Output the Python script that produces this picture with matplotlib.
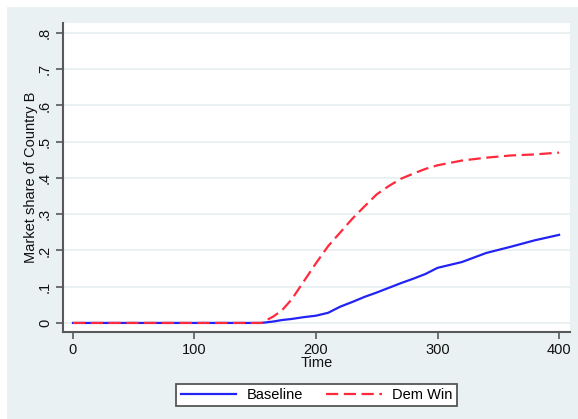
import matplotlib
matplotlib.use("Agg")
import matplotlib.pyplot as plt
from matplotlib.patches import Rectangle

time = [0, 155, 165, 172, 180, 190, 200, 210, 220, 230, 240, 250, 260, 270,
        280, 290, 300, 320, 340, 360, 380, 400]
dem_win = [0, 0, 0.018, 0.035, 0.065, 0.115, 0.165, 0.212, 0.25, 0.288, 0.322,
           0.355, 0.378, 0.398, 0.412, 0.425, 0.435, 0.448, 0.456, 0.462,
           0.465, 0.47]
baseline = [0, 0, 0.004, 0.008, 0.011, 0.016, 0.02, 0.028, 0.045, 0.058,
            0.072, 0.084, 0.097, 0.11, 0.122, 0.135, 0.152, 0.168, 0.193,
            0.21, 0.228, 0.243]

xticks = [0, 100, 200, 300, 400]
yticks = [0, 0.1, 0.2, 0.3, 0.4, 0.5, 0.6, 0.7, 0.8]
ytick_labels = ["0", ".1", ".2", ".3", ".4", ".5", ".6", ".7", ".8"]

plt.rcParams['font.family'] = ['Liberation Sans', 'DejaVu Sans']

W, H = 578, 419
fig = plt.figure(figsize=(W / 100, H / 100), dpi=100)
fig.patch.set_facecolor('white')
bg = Rectangle((7 / W, 0), 1 - 7 / W, 1 - 7 / H, transform=fig.transFigure,
               facecolor='#eaf1f3', edgecolor='none', zorder=-10)
fig.patches.append(bg)

ax = fig.add_axes([63 / W, 1 - 332 / H, (570 - 63) / W, (332 - 23) / H])
ax.set_zorder(1)
ax.set_facecolor('white')

ax.plot(time, baseline, color='#2323f5', lw=1.6, label='Baseline', zorder=3)
ax.plot(time, dem_win, color='#ff2a3c', lw=1.6, dashes=(5.5, 2.5),
        label='Dem Win', zorder=4)

ax.set_xlim(-8.2, 409)
ax.set_ylim(-0.025, 0.8276)
ax.set_xticks(xticks)
ax.set_yticks(yticks)
ax.set_yticklabels(ytick_labels, rotation=90, va='center')
ax.grid(axis='y', color='#e8f0f2', lw=1.3)
ax.set_axisbelow(True)

for s in ['top', 'right']:
    ax.spines[s].set_visible(False)
for s in ['left', 'bottom']:
    ax.spines[s].set_color('#595959')
    ax.spines[s].set_linewidth(1.5)
ax.tick_params(axis='both', colors='#595959', width=1.2, length=5,
               labelsize=10.5, labelcolor='#111111', pad=3)

ax.set_xlabel('Time', fontsize=10.5, color='#111111', labelpad=-1)
ax.set_ylabel('Market share of Country B', fontsize=10.5, color='#111111',
              labelpad=0)

leg = ax.legend(loc='center', bbox_to_anchor=(0.5, (395 - 332) / (23 - 332)),
                ncol=2, frameon=True, fancybox=False, fontsize=10.5,
                handlelength=3.8, columnspacing=1.6, borderpad=0.3,
                handletextpad=0.7)
leg.get_frame().set_edgecolor('#555555')
leg.get_frame().set_linewidth(1.3)
leg.get_frame().set_facecolor('white')
leg.get_frame().set_alpha(1)

fig.savefig('out.png', dpi=100)
